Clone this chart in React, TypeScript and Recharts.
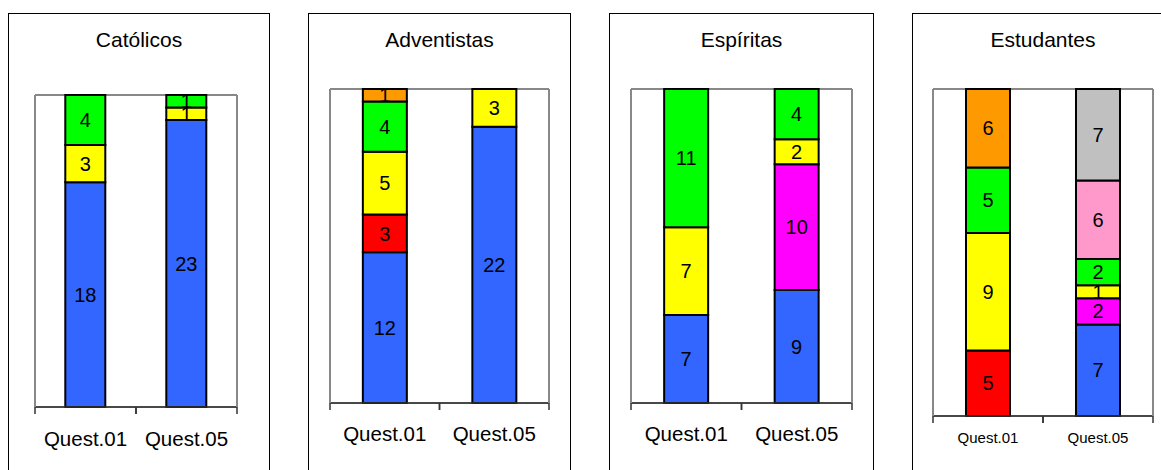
import { Bar, BarChart, CartesianGrid, LabelList, XAxis, YAxis } from "recharts"

// categorias e séries (ordem de empilhamento, de baixo para cima)
const questions = ["Quest.01", "Quest.05"]
const seriesKeys = ["azul", "vermelho", "magenta", "amarelo", "verde", "laranja", "rosa", "cinza"]
const seriesColors = ["#3366FF", "#FF0000", "#FF00FF", "#FFFF00", "#00FF00", "#FF9900", "#FF99CC", "#C0C0C0"]

const catolicosQ01 = [18, 0, 0, 3, 4, 0, 0, 0]
const catolicosQ05 = [23, 0, 0, 1, 1, 0, 0, 0]
const adventistasQ01 = [12, 3, 0, 5, 4, 1, 0, 0]
const adventistasQ05 = [22, 0, 0, 3, 0, 0, 0, 0]
const espiritasQ01 = [7, 0, 0, 7, 11, 0, 0, 0]
const espiritasQ05 = [9, 0, 10, 2, 4, 0, 0, 0]
const estudantesQ01 = [0, 5, 0, 9, 5, 6, 0, 0]
const estudantesQ05 = [7, 0, 2, 1, 2, 0, 6, 7]

const yDomain = [0, 25]

const FONT = "'Liberation Sans', Arial, Helvetica, sans-serif"
const PANEL_TOP = 13
const CHART_H = 457

function toRows(q01: number[], q05: number[]) {
  return questions.map((q, i) => {
    const vals = i === 0 ? q01 : q05
    const row: Record<string, any> = { q }
    seriesKeys.forEach((k, j) => (row[k] = vals[j]))
    return row
  })
}

const panels = [
  { title: "Católicos", rows: toRows(catolicosQ01, catolicosQ05), left: 8, width: 262, plot: [35, 237, 95, 407], tickDy: 31, tickFont: 20.5 },
  { title: "Adventistas", rows: toRows(adventistasQ01, adventistasQ05), left: 308, width: 263, plot: [330, 549, 89, 403], tickDy: 30, tickFont: 20.5 },
  { title: "Espíritas", rows: toRows(espiritasQ01, espiritasQ05), left: 609, width: 265, plot: [631, 852, 89, 403], tickDy: 30, tickFont: 20.5 },
  { title: "Estudantes", rows: toRows(estudantesQ01, estudantesQ05), left: 912, width: 262, plot: [933, 1153, 89, 416], tickDy: 21, tickFont: 15 },
]

function BottomTick(props: any) {
  const { x, y, payload, bw, dy, fontSize } = props
  return (
    <g>
      <line x1={x - bw / 2} x2={x - bw / 2} y1={y} y2={y + 7} stroke="#333" strokeWidth={1.5} />
      <line x1={x + bw / 2} x2={x + bw / 2} y1={y} y2={y + 7} stroke="#333" strokeWidth={1.5} />
      <text x={x} y={y + dy} textAnchor="middle" dominantBaseline="central" fontSize={fontSize} fontFamily={FONT} fill="#000">
        {payload.value}
      </text>
    </g>
  )
}

function Panel({ p }: { p: (typeof panels)[number] }) {
  const [pl, pr, pt, pb] = p.plot
  const bw = (pr - pl) / 2
  const axisH = 40
  const margin = {
    top: pt - PANEL_TOP,
    left: pl - p.left - 1,
    right: p.left + p.width - pr - 1,
    bottom: CHART_H - (pb - PANEL_TOP) - axisH,
  }
  const frame = { stroke: "#888", strokeWidth: 2 }
  return (
    <>
      <div
        style={{
          position: "absolute",
          left: p.left,
          top: PANEL_TOP,
          width: p.width,
          height: 480,
          border: "1px solid #000",
          boxSizing: "border-box",
        }}
      />
      <div
        style={{
          position: "absolute",
          left: p.left,
          top: 28,
          width: p.width,
          textAlign: "center",
          fontFamily: FONT,
          fontSize: 21,
          lineHeight: "24px",
        }}
      >
        {p.title}
      </div>
      <div style={{ position: "absolute", left: p.left, top: PANEL_TOP }}>
        <BarChart width={p.width} height={CHART_H} data={p.rows} margin={margin} barCategoryGap="30%">
          <CartesianGrid yAxisId="left" vertical={false} stroke="#888" strokeWidth={2} />
          <XAxis
            dataKey="q"
            height={axisH}
            tickSize={0}
            tickMargin={0}
            tickLine={false}
            interval={0}
            axisLine={{ stroke: "#333", strokeWidth: 1.5 }}
            tick={(tp: any) => <BottomTick {...tp} bw={bw} dy={p.tickDy} fontSize={p.tickFont} />}
          />
          <YAxis yAxisId="left" width={1} domain={yDomain} ticks={yDomain} tick={false} tickLine={false} axisLine={frame} />
          <YAxis yAxisId="right" orientation="right" width={1} domain={yDomain} tick={false} tickLine={false} axisLine={frame} />
          {seriesKeys.map((k, i) => (
            <Bar
              key={k}
              dataKey={k}
              stackId="a"
              yAxisId="left"
              fill={seriesColors[i]}
              stroke="#000"
              strokeWidth={2}
              isAnimationActive={false}
            >
              <LabelList
                dataKey={k}
                position="center"
                fill="#000"
                fontSize={20}
                fontFamily={FONT}
                formatter={(v: any) => (v ? v : "")}
              />
            </Bar>
          ))}
        </BarChart>
      </div>
    </>
  )
}

export default function App() {
  return (
    <div style={{ position: "absolute", left: 0, top: 0, width: 1161, height: 470, overflow: "hidden", background: "#fff" }}>
      {panels.map((p) => (
        <Panel key={p.title} p={p} />
      ))}
    </div>
  )
}
